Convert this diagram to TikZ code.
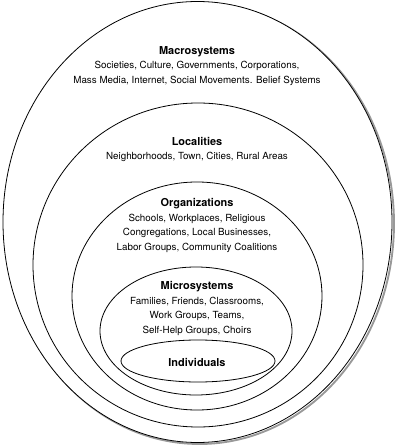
\documentclass[tikz,border=0pt]{standalone}
\usepackage{fontspec}
\setmainfont{TeX Gyre Heros}
\tikzset{
  ring/.style={draw=black, line width=0.6pt, fill=white},
  shade/.style={draw=black!40, line width=1.4pt},
  layer/.style={align=center, inner sep=0pt, font=\fontsize{7.35}{10.9}\selectfont},
}
\newcommand{\lvltitle}[1]{{\fontsize{8.2}{10.9}\selectfont\bfseries #1}}

\begin{document}
\begin{tikzpicture}[x=0.75pt, y=-0.75pt, line join=round, line cap=round]
			\useasboundingbox (0,0) rectangle (400,448);
			% drop shadow of the outer ring
			\draw[shade] (199.5,223.5) ellipse [x radius=194.5, y radius=220.5];
			% rings, outside in
			\draw[ring] (197.5,222) ellipse [x radius=194.5, y radius=220.5];
			\draw[ring] (198,265) ellipse [x radius=165, y radius=162];
			\draw[ring] (197,296) ellipse [x radius=125, y radius=114];
			\draw[ring] (196,331) ellipse [x radius=96, y radius=64];
			\draw[ring] (198,361) ellipse [x radius=77, y radius=21];
			% labels
			\node[layer] (macro) at (197,66) {\lvltitle{Macrosystems}\\
				Societies, Culture, Governments, Corporations,\\
				Mass Media, Internet, Social Movements. Belief Systems};
			\node[layer] (local) at (197,149.5) {\lvltitle{Localities}\\
				Neighborhoods, Town, Cities, Rural Areas};
			\node[layer] (org) at (197,225.5) {\lvltitle{Organizations}\\
				Schools, Workplaces, Religious\\
				Congregations, Local Businesses,\\
				Labor Groups, Community Coalitions};
			\node[layer] (micro) at (197,308.5) {\lvltitle{Microsystems}\\
				Families, Friends, Classrooms,\\
				Work Groups, Teams,\\
				Self-Help Groups, Choirs};
			\node[layer] (indiv) at (197,362) {\lvltitle{Individuals}};
		\end{tikzpicture}
\end{document}
